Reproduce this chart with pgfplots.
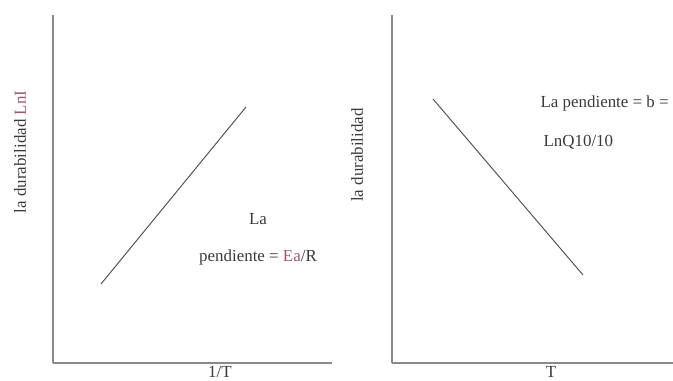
\documentclass[border=0pt]{standalone}
\usepackage{fontspec}
\setmainfont{Liberation Serif}
\usepackage{pgfplots}
\pgfplotsset{compat=1.18}
\definecolor{axisgray}{HTML}{8A8A8A}
\definecolor{linegray}{HTML}{555555}
\definecolor{txt}{HTML}{3A3A3A}
\definecolor{spell}{HTML}{9A5A6A}
\begin{document}
\begin{tikzpicture}[font=\fontsize{17}{20}\selectfont, text=txt]
\useasboundingbox (0,0) rectangle (673bp,381bp);
\pgfplotsset{
  panel/.style={
    scale only axis, clip=false,
    anchor=south west,
    axis x line=bottom, axis y line=left,
    axis line style={-, axisgray, line width=1.4pt},
    xtick=\empty, ytick=\empty,
    ymin=18, ymax=366,
    height=348bp,
  }
}
% left panel: ln(durabilidad) vs 1/T
\begin{axis}[panel, at={(53bp,18bp)}, width=279bp, xmin=53, xmax=332]
\addplot[linegray, line width=1pt] coordinates {(101,97) (246,274)};
\node at (axis cs:258,162) {La};
\node at (axis cs:258,124) {pendiente = \textcolor{spell}{Ea}/R};
\node[rotate=90] at (axis cs:20,229) {la durabilidad \textcolor{spell}{LnI}};
\node at (axis cs:220,9) {1/T};
\end{axis}
% right panel: ln(durabilidad) vs T
\begin{axis}[panel, at={(392bp,18bp)}, width=281bp, xmin=392, xmax=673]
\addplot[linegray, line width=1pt] coordinates {(433,282) (583,106)};
\node[anchor=west] at (axis cs:537,278) {La pendiente = b =};
\node[anchor=west] at (axis cs:540,239) {LnQ10/10};
\node[rotate=90] at (axis cs:357,226) {la durabilidad};
\node at (axis cs:551,9) {T};
\end{axis}
\end{tikzpicture}
\end{document}
